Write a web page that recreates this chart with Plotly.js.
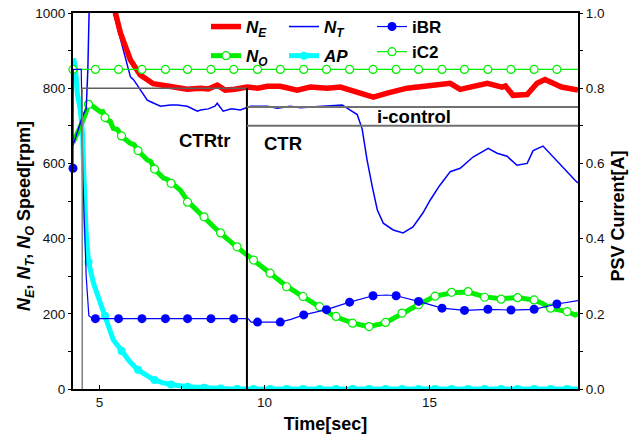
<!DOCTYPE html>
<html>
<head>
<meta charset="utf-8">
<script src="https://cdn.plot.ly/plotly-3.0.1.min.js"></script>
<style>html,body{margin:0;padding:0;background:#fff;}#chart{width:632px;height:437px;}</style>
</head>
<body>
<div id="chart"></div>
<script>
// ---- N_E (engine speed, rpm) ----
const neTime  = [5.40, 5.48, 5.64, 5.94, 6.24, 6.63, 7.24, 7.66, 8.06, 8.30, 8.57, 8.81, 9.10, 9.48, 9.80, 10.09, 10.48, 10.99, 11.39, 11.90, 12.30, 12.81, 13.30, 13.72, 14.32, 15.11, 15.63, 15.93, 16.40, 16.75, 17.20, 17.30, 17.53, 17.96, 18.26, 18.50, 19.00, 19.41, 19.50];
const neSpeed = [1030, 1000, 946, 875, 835, 812, 805, 797, 800, 798, 808, 795, 797, 803, 800, 805, 805, 795, 803, 800, 803, 790, 776, 787, 800, 808, 813, 797, 805, 813, 803, 806, 781, 783, 813, 823, 803, 795, 795];

// ---- N_T (turbine speed, rpm) ----
const ntTime  = [4.20, 4.35, 4.50, 4.60, 4.65, 4.70, 4.72, 5.38, 5.43, 5.73, 5.94, 6.04, 6.24, 6.45, 6.55, 6.75, 6.85, 7.15, 7.36, 7.66, 7.97, 8.06, 8.30, 8.50, 8.57, 8.75, 9.00, 9.27, 9.48, 9.57, 10.09, 10.39, 10.78, 11.10, 11.39, 11.90, 12.36, 12.60, 12.81, 12.96, 13.11, 13.27, 13.42, 13.60, 13.90, 14.20, 14.50, 14.80, 15.02, 15.30, 15.63, 15.93, 16.32, 16.78, 17.05, 17.35, 17.65, 17.96, 18.14, 18.44, 18.75, 19.05, 19.41, 19.50];
const ntSpeed = [648, 690, 728, 745, 850, 1050, 1100, 1100, 1000, 900, 830, 822, 795, 768, 764, 755, 752, 755, 755, 752, 739, 742, 745, 752, 760, 739, 745, 742, 750, 752, 752, 747, 752, 748, 750, 752, 755, 742, 730, 692, 609, 537, 476, 441, 423, 415, 431, 468, 502, 540, 578, 587, 617, 640, 627, 619, 595, 600, 634, 646, 617, 587, 555, 548];

// ---- N_O (output speed, rpm) ----
const noTime  = [4.20, 4.30, 4.42, 4.58, 4.67, 4.83, 5.03, 5.10, 5.24, 5.33, 5.42, 5.55, 5.70, 5.94, 6.05, 6.18, 6.45, 6.55, 6.70, 6.94, 7.05, 7.21, 7.45, 7.70, 7.97, 8.15, 8.40, 8.66, 9.16, 9.48, 9.66, 10.18, 10.42, 10.69, 11.18, 11.66, 12.15, 12.66, 13.15, 13.66, 14.17, 14.66, 15.17, 15.69, 16.17, 16.69, 17.14, 17.65, 18.14, 18.40, 18.65, 19.17, 19.41, 19.50];
const noSpeed = [656, 672, 697, 732, 757, 750, 737, 738, 715, 712, 693, 690, 670, 653, 650, 633, 609, 605, 582, 561, 558, 547, 529, 497, 476, 458, 437, 415, 378, 356, 343, 308, 290, 272, 245, 219, 192, 176, 166, 176, 202, 224, 247, 256, 258, 245, 240, 243, 237, 229, 215, 206, 197, 200];
const noMarkTime  = [4.67, 5.17, 5.67, 6.17, 6.67, 7.17, 7.67, 8.17, 8.67, 9.17, 9.67, 10.17, 10.67, 11.17, 11.67, 12.17, 12.67, 13.17, 13.67, 14.17, 14.67, 15.17, 15.67, 16.17, 16.67, 17.17, 17.67, 18.17, 18.67, 19.17];
const noMarkSpeed = [757, 722, 673, 634, 585, 547, 497, 458, 415, 378, 343, 308, 272, 246, 219, 193, 175, 166, 177, 202, 224, 247, 257, 259, 244, 239, 243, 237, 215, 206];

// ---- AP ----
const apTime  = [4.20, 4.22, 4.27, 4.33, 4.42, 4.49, 4.52, 4.55, 4.60, 4.67, 4.82, 5.03, 5.24, 5.42, 5.70, 5.90, 6.15, 6.40, 6.63, 6.90, 7.15, 7.66, 8.27, 9.00, 19.50];
const apValue = [850, 879, 856, 786, 742, 680, 591, 500, 414, 338, 282, 228, 176, 131, 99, 75, 52, 37, 25, 17, 12, 6, 2, 0, 0];
const apMarkTime  = [4.67, 5.17, 5.67, 6.17, 6.67, 7.17, 7.67, 8.17, 8.67, 9.17, 9.67, 10.17, 10.67, 11.17, 11.67, 12.17, 12.67, 13.17, 13.67, 14.17, 14.67, 15.17, 15.67, 16.17, 16.67, 17.17, 17.67, 18.17, 18.67, 19.17];
const apMarkValue = [338, 195, 101, 51, 24, 12, 6, 3, 1, 0, 0, 0, 0, 0, 0, 0, 0, 0, 0, 0, 0, 0, 0, 0, 0, 0, 0, 0, 0, 0];

// ---- iBR (PSV current, A) ----
const ibrTime    = [4.20, 4.21, 4.45, 4.50, 4.60, 4.68, 4.80, 9.50, 9.60, 10.48, 10.80, 11.19, 11.88, 12.20, 12.58, 13.29, 13.70, 13.99, 14.67, 15.38, 16.06, 16.77, 17.47, 18.17, 18.86, 19.50];
const ibrCurrent = [0.587, 0.85, 0.85, 0.56, 0.30, 0.195, 0.187, 0.187, 0.178, 0.178, 0.185, 0.197, 0.211, 0.220, 0.231, 0.248, 0.250, 0.248, 0.233, 0.215, 0.209, 0.212, 0.210, 0.212, 0.226, 0.235];
const ibrMarkTime    = [4.20, 4.88, 5.58, 6.29, 7.00, 7.67, 8.38, 9.07, 9.79, 10.48, 11.19, 11.88, 12.58, 13.29, 13.99, 14.67, 15.38, 16.06, 16.77, 17.47, 18.17, 18.86];
const ibrMarkCurrent = [0.587, 0.187, 0.187, 0.187, 0.187, 0.187, 0.187, 0.187, 0.178, 0.178, 0.197, 0.211, 0.231, 0.248, 0.248, 0.233, 0.215, 0.209, 0.212, 0.210, 0.212, 0.226];

// ---- iC2 (PSV current, A) ----
const ic2Time    = [4.20, 19.50];
const ic2Current = [0.85, 0.85];
const ic2MarkTime    = [4.20, 4.88, 5.58, 6.29, 7.00, 7.67, 8.38, 9.07, 9.79, 10.48, 11.19, 11.88, 12.58, 13.29, 13.99, 14.67, 15.38, 16.06, 16.77, 17.47, 18.17, 18.86];
const ic2MarkCurrent = [0.85, 0.85, 0.85, 0.85, 0.85, 0.85, 0.85, 0.85, 0.85, 0.85, 0.85, 0.85, 0.85, 0.85, 0.85, 0.85, 0.85, 0.85, 0.85, 0.85, 0.85, 0.85];

// ---- control-phase annotations ----
const phaseStart = 4.48, phaseSwitch = 9.47, phaseLevel = 800;
const iControlLevels = [750, 700];
const phaseLabels = ['CTRtr', 'CTR', 'i-control'];
const phaseLabelX = [8.18, 10.56, 14.54];
const phaseLabelY = [662, 653, 724];

// tick labels
const xTickVals = [5, 10, 15];
const yTickVals = [0, 200, 400, 600, 800, 1000];
const y2TickVals = [0, 0.2, 0.4, 0.6, 0.8, 1.0];

// helper: isolated points (markers only, no connecting segments) for a lines+markers legend look
function isolated(arr){ const out=[]; arr.forEach((v,i)=>{ if(i) out.push(null); out.push(v); }); return out; }

const FONT = 'Liberation Sans, Arial, Helvetica, sans-serif';
const RED = '#ff0000', BLUE = '#0000ff', GREEN = '#00ee00', CYAN = '#00ffff';
const PAD = '\u00a0\u00a0\u00a0\u00a0\u00a0\u00a0';

const traces = [
  {x: apTime, y: apValue, mode:'lines', line:{color:CYAN, width:5}, showlegend:false, hoverinfo:'skip'},
  {x: isolated(apMarkTime), y: isolated(apMarkValue), mode:'lines+markers', name:'<b><i>AP</i></b>',
   line:{color:CYAN, width:5}, marker:{color:CYAN, size:8, symbol:'circle'}, legend:'legend2', legendgroup:'ap', legendrank:2},
  {x: noTime, y: noSpeed, mode:'lines', line:{color:GREEN, width:5}, showlegend:false, hoverinfo:'skip'},
  {x: isolated(noMarkTime), y: isolated(noMarkSpeed), mode:'lines+markers', name:'<b><i>N<sub>O</sub></i></b>',
   line:{color:GREEN, width:5}, marker:{color:'#ffffff', size:8, symbol:'circle', line:{color:GREEN, width:1.2}}, legend:'legend', legendgroup:'no', legendrank:2},
  {x: ntTime, y: ntSpeed, mode:'lines', name:'<b><i>N<sub>T</sub></i></b>', line:{color:BLUE, width:1.5}, legend:'legend2', legendgroup:'nt', legendrank:1},
  {x: neTime, y: neSpeed, mode:'lines', name:'<b><i>N<sub>E</sub></i></b>', line:{color:RED, width:5.5}, legend:'legend', legendgroup:'ne', legendrank:1},
  {x: ic2Time, y: ic2Current, yaxis:'y2', mode:'lines', line:{color:GREEN, width:1.2}, showlegend:false, hoverinfo:'skip', cliponaxis:false},
  {x: isolated(ic2MarkTime), y: isolated(ic2MarkCurrent), yaxis:'y2', mode:'lines+markers', name:'<b>iC2</b>',
   line:{color:GREEN, width:1.2}, marker:{color:'#ffffff', size:8, symbol:'circle', line:{color:GREEN, width:1.2}}, legend:'legend3', legendgroup:'ic2', legendrank:2, cliponaxis:false},
  {x: ibrTime, y: ibrCurrent, yaxis:'y2', mode:'lines', line:{color:BLUE, width:1.2}, showlegend:false, hoverinfo:'skip', cliponaxis:false},
  {x: isolated(ibrMarkTime), y: isolated(ibrMarkCurrent), yaxis:'y2', mode:'lines+markers', name:'<b>iBR</b>',
   line:{color:BLUE, width:1.2}, marker:{color:BLUE, size:9, symbol:'circle'}, legend:'legend3', legendgroup:'ibr', legendrank:1, cliponaxis:false}
];

const legendBase = {orientation:'v', yref:'container', yanchor:'top', y:1 - 9/437, xanchor:'left', bgcolor:'rgba(0,0,0,0)', borderwidth:0,
  font:{family:FONT, size:17, color:'#000'}, traceorder:'grouped', tracegroupgap:4};

const grayLine = {color:'#707070', width:2};
const shapes = [
  {type:'line', xref:'x', yref:'y', x0:phaseStart, x1:phaseStart, y0:0, y1:phaseLevel, line:{color:'#808080', width:1.5}},
  {type:'line', xref:'x', yref:'y', x0:phaseStart, x1:phaseSwitch, y0:phaseLevel, y1:phaseLevel, line:{color:'#606060', width:1.5}},
  {type:'line', xref:'x', yref:'y', x0:phaseSwitch, x1:phaseSwitch, y0:0, y1:phaseLevel, line:{color:'#000', width:2}},
  {type:'line', xref:'x', yref:'y', x0:phaseSwitch, x1:19.5, y0:iControlLevels[0], y1:iControlLevels[0], line:grayLine},
  {type:'line', xref:'x', yref:'y', x0:phaseSwitch, x1:19.5, y0:iControlLevels[1], y1:iControlLevels[1], line:grayLine}
];

const annotations = phaseLabels.map((t,i)=>({
  x: phaseLabelX[i], y: phaseLabelY[i], xref:'x', yref:'y', text:'<b>'+t+'</b>', showarrow:false,
  font:{family:FONT, size:18.5, color:'#000'}, xanchor:'center', yanchor:'middle'
}));

const tickFont = {family:FONT, size:13.5, color:'#111'};
const layout = {
  width:632, height:437,
  margin:{l:73, r:54, t:13, b:48, pad:0, autoexpand:false},
  paper_bgcolor:'#fff', plot_bgcolor:'#fff',
  showlegend:true,
  font:{family:FONT, color:'#000'},
  xaxis:{range:[4.2,19.5], tickvals:xTickVals, ticks:'inside', ticklen:4, tickwidth:1, tickcolor:'#000',
    minor:{dtick:2.5, tick0:0, ticks:'inside', ticklen:3, tickcolor:'#000'},
    showline:true, linecolor:'#000', linewidth:1.6, mirror:true, showgrid:false, zeroline:false,
    tickfont:tickFont, automargin:false,
    title:{text:'<b>Time[sec]</b>', font:{family:FONT, size:18, color:'#000'}, standoff:8}},
  yaxis:{range:[0,1000], tickvals:yTickVals, ticks:'outside', ticklen:3, tickcolor:'#000',
    minor:{dtick:100, tick0:0, ticks:'outside', ticklen:3, tickcolor:'#000'},
    showline:true, linecolor:'#000', linewidth:2, showgrid:false, zeroline:false,
    tickfont:tickFont, automargin:false,
    title:{text:'<b><i>N<sub>E</sub></i>, <i>N<sub>T</sub></i>, <i>N<sub>O</sub></i> Speed[rpm]' + PAD + '</b>', font:{family:FONT, size:18, color:'#000'}, standoff:0}},
  yaxis2:{range:[0,1], overlaying:'y', side:'right', tickvals:y2TickVals, tickformat:'.1f', ticks:'outside', ticklen:3, tickcolor:'#000',
    minor:{dtick:0.1, tick0:0, ticks:'outside', ticklen:3, tickcolor:'#000'},
    showline:true, linecolor:'#000', linewidth:2, showgrid:false, zeroline:false,
    tickfont:tickFont, automargin:false,
    title:{text:'<b>PSV Current[A]' + PAD + '</b>', font:{family:FONT, size:18, color:'#000'}, standoff:7}},
  legend: Object.assign({}, legendBase, {x:(206-73)/505}),
  legend2: Object.assign({}, legendBase, {x:(284-73)/505}),
  legend3: Object.assign({}, legendBase, {x:(372-73)/505, tracegroupgap:0}),
  shapes: shapes,
  annotations: annotations
};

Plotly.newPlot('chart', traces, layout, {staticPlot:true, displayModeBar:false});
</script>
</body>
</html>
